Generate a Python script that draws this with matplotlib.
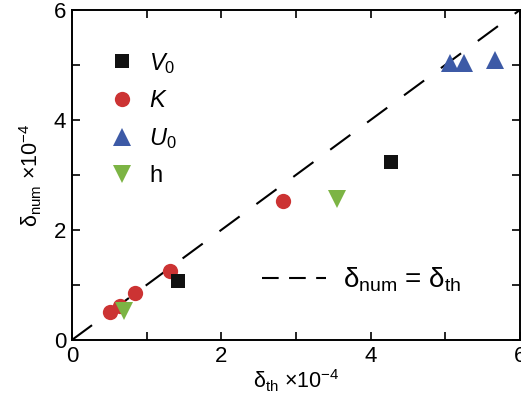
import matplotlib
matplotlib.use("Agg")
import matplotlib.pyplot as plt
from matplotlib.lines import Line2D
from matplotlib.ticker import MultipleLocator

plt.rcParams['font.family'] = ['Liberation Sans', 'DejaVu Sans']
plt.rcParams['mathtext.fontset'] = 'custom'
plt.rcParams['mathtext.rm'] = 'Liberation Sans'
plt.rcParams['mathtext.it'] = 'Liberation Sans:italic'
plt.rcParams['mathtext.default'] = 'rm'

# delta_th (x) and delta_num (y), both in units of 1e-4
v0_th = [1.42, 4.27]
v0_num = [1.07, 3.24]
k_th = [0.51, 0.64, 0.85, 1.31, 2.83]
k_num = [0.50, 0.62, 0.85, 1.25, 2.52]
u0_th = [5.06, 5.25, 5.67]
u0_num = [5.04, 5.04, 5.09]
h_th = [0.70, 3.55]
h_num = [0.52, 2.57]
ideal = [0, 6]

fig = plt.figure(figsize=(5.21, 3.97), dpi=100)
ax = fig.add_axes([0.138, 0.1436, 0.860, 0.8314])

ax.plot(ideal, ideal, color='black', lw=1.5, dashes=(12, 10), zorder=1)

h1, = ax.plot(v0_th, v0_num, 's', color='#111111', ms=9.5, mew=0, zorder=3)
h2, = ax.plot(k_th, k_num, 'o', color='#cc3333', ms=11, mew=0, zorder=2)
h3, = ax.plot(u0_th, u0_num, '^', color='#3d5aa6', ms=13, mew=0, zorder=2)
h4, = ax.plot(h_th, h_num, 'v', color='#7cb444', ms=13, mew=0, zorder=2)

leg1 = ax.legend([h1, h2, h3, h4],
                 [r'$\it{V}$$_0$', r'$\it{K}$', r'$\it{U}$$_0$', 'h'],
                 loc='upper left', bbox_to_anchor=(0.065, 0.905),
                 frameon=False, fontsize=17, handlelength=1.0,
                 handletextpad=0.65, labelspacing=0.6, borderaxespad=0)
ax.add_artist(leg1)

dash_proxy = Line2D([], [], color='black', lw=1.5, dashes=(8, 5))
ax.legend([dash_proxy], [r'$\mathrm{\delta}_{\mathrm{num}}$ = $\mathrm{\delta}_{\mathrm{th}}$'],
          loc='lower left', bbox_to_anchor=(0.40, 0.105), frameon=False,
          fontsize=20, handlelength=2.3, handletextpad=0.6, borderaxespad=0)

ax.set_xlim(0, 6)
ax.set_ylim(0, 6)
ax.xaxis.set_major_locator(MultipleLocator(2))
ax.xaxis.set_minor_locator(MultipleLocator(1))
ax.yaxis.set_major_locator(MultipleLocator(2))
ax.yaxis.set_minor_locator(MultipleLocator(1))
ax.tick_params(which='both', direction='in', top=True, right=True, width=1.2)
ax.tick_params(which='major', length=6, labelsize=16, pad=4)
ax.tick_params(which='minor', length=6)
for s in ax.spines.values():
    s.set_linewidth(1.4)

ax.set_xlabel(r'$\mathrm{\delta}_{\mathrm{th}}$ $\times$10$^{-4}$', fontsize=15.5, labelpad=1)
ax.set_ylabel(r'$\mathrm{\delta}_{\mathrm{num}}$ $\times$10$^{-4}$', fontsize=15.5, labelpad=7)

fig.savefig('out.png', dpi=100)
